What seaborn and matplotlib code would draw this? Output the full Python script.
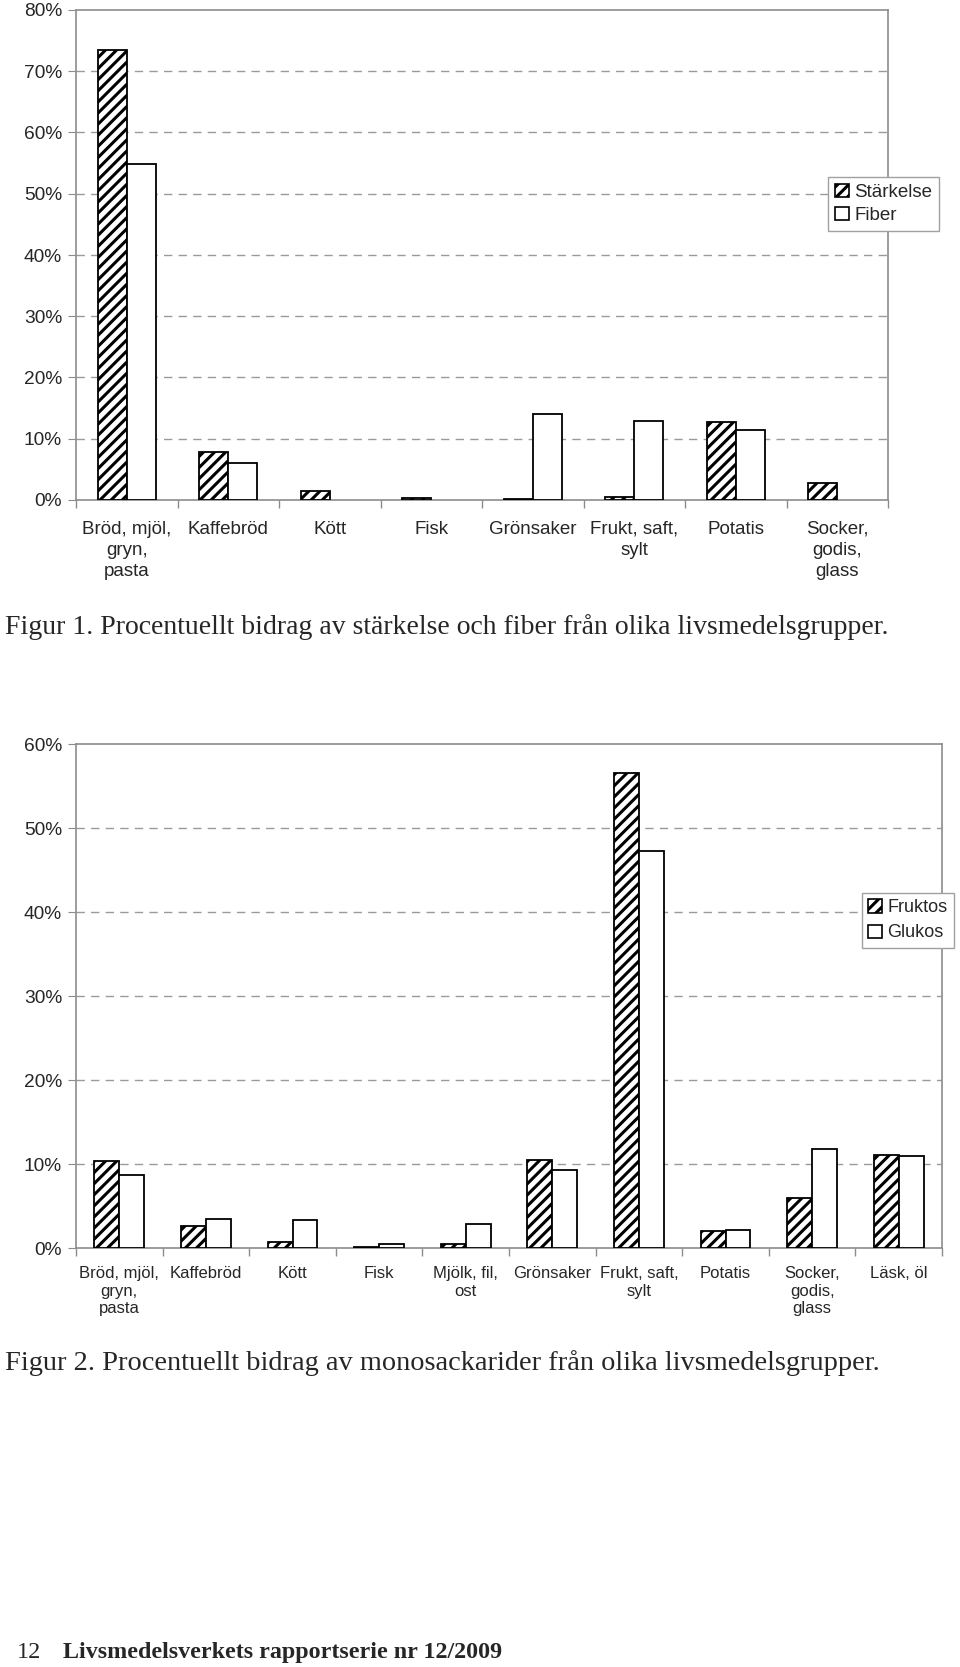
import numpy as np
import pandas as pd
import matplotlib
matplotlib.use("Agg")
import matplotlib.pyplot as plt
from matplotlib.patches import Patch
from matplotlib.ticker import PercentFormatter, FixedLocator
import seaborn as sns

# ---------------- data ----------------
cats1 = ["Bröd, mjöl,\ngryn,\npasta", "Kaffebröd", "Kött", "Fisk", "Grönsaker",
         "Frukt, saft,\nsylt", "Potatis", "Socker,\ngodis,\nglass"]
starch = [73.5, 7.8, 1.5, 0.3, 0.2, 0.5, 12.8, 2.7]
fiber = [54.9, 6.0, 0.0, 0.0, 14.1, 12.9, 11.5, 0.0]
series1 = ["Stärkelse", "Fiber"]

cats2 = ["Bröd, mjöl,\ngryn,\npasta", "Kaffebröd", "Kött", "Fisk", "Mjölk, fil,\nost",
         "Grönsaker", "Frukt, saft,\nsylt", "Potatis", "Socker,\ngodis,\nglass", "Läsk, öl"]
fruktos = [10.3, 2.65, 0.7, 0.1, 0.45, 10.5, 56.6, 2.0, 6.0, 11.1]
glukos = [8.7, 3.4, 3.3, 0.45, 2.9, 9.3, 47.3, 2.2, 11.8, 10.9]
series2 = ["Fruktos", "Glukos"]

caption1 = "Figur 1. Procentuellt bidrag av stärkelse och fiber från olika livsmedelsgrupper."
caption2 = "Figur 2. Procentuellt bidrag av monosackarider från olika livsmedelsgrupper."
footer_num = "12"
footer_txt = "Livsmedelsverkets rapportserie nr 12/2009"

# ---------------- style ----------------
sns.set_style("white")
plt.rcParams["font.family"] = ["Liberation Sans", "DejaVu Sans"]
plt.rcParams["hatch.linewidth"] = 2.2
plt.rcParams["hatch.color"] = "black"

W, H = 960, 1667
fig = plt.figure(figsize=(W / 100, H / 100), dpi=100)
fig.patch.set_facecolor("white")

GRID = "#9a9a9a"
SPINE = "#8c8c8c"


def make_df(cats, a, b, names):
    return pd.DataFrame({
        "cat": cats * 2,
        "val": list(a) + list(b),
        "series": [names[0]] * len(cats) + [names[1]] * len(cats),
    })


def draw(ax, cats, a, b, names, ymax, tick_fs, xlab_fs, pad, lsp):
    df = make_df(cats, a, b, names)
    sns.barplot(data=df, x="cat", y="val", hue="series", order=cats, hue_order=names,
                palette=["white", "white"], edgecolor="black", linewidth=1.3,
                width=0.575, gap=0, saturation=1, legend=False, ax=ax, zorder=3)
    for bar in ax.containers[0]:
        bar.set_hatch("///")
    for cont in ax.containers:
        for bar in cont:
            if bar.get_height() == 0:
                bar.set_visible(False)
    n = len(cats)
    ax.set_xlim(-0.5, n - 0.5)
    ax.set_ylim(0, ymax)
    ax.set_yticks(np.arange(0, ymax + 1, 10))
    ax.yaxis.set_major_formatter(PercentFormatter(decimals=0))
    ax.set_xlabel("")
    ax.set_ylabel("")
    for y in np.arange(10, ymax, 10):
        ax.axhline(y, color=GRID, lw=1.0, ls=(0, (6, 4.5)), zorder=1)
    for s in ax.spines.values():
        s.set_visible(True)
        s.set_color(SPINE)
        s.set_linewidth(1.2)
    ax.tick_params(axis="y", which="major", left=True, length=6, color=SPINE,
                   labelsize=tick_fs, pad=4)
    ax.tick_params(axis="x", which="major", length=0, labelsize=xlab_fs, pad=pad)
    ax.xaxis.set_minor_locator(FixedLocator(np.arange(-0.5, n, 1.0)))
    ax.tick_params(axis="x", which="minor", bottom=True, length=6, color=SPINE, width=1)
    for lab in ax.get_xticklabels():
        lab.set_linespacing(lsp)
        lab.set_ha("center")


# Chart 1
ax1 = fig.add_axes([76 / W, 1 - 500 / H, (888 - 76) / W, 490 / H])
draw(ax1, cats1, starch, fiber, series1, 80, 13.8, 13.5, 15, 1.33)

# Chart 2
ax2 = fig.add_axes([76 / W, 1 - 1248 / H, (942 - 76) / W, 504 / H])
draw(ax2, cats2, fruktos, glukos, series2, 60, 13.8, 12, 13, 1.22)

# legends
def legend(names, x, y, fs, lsp):
    handles = [Patch(facecolor="white", edgecolor="black", hatch="///", lw=1.2),
               Patch(facecolor="white", edgecolor="black", lw=1.2)]
    leg = fig.legend(handles, names, loc="upper left", bbox_to_anchor=(x / W, 1 - y / H),
                     bbox_transform=fig.transFigure, fontsize=fs, frameon=True,
                     fancybox=False, framealpha=1, edgecolor="#a0a0a0",
                     handlelength=0.75, handleheight=0.75, handletextpad=0.3,
                     labelspacing=lsp, borderpad=0.35, borderaxespad=0)
    leg.get_frame().set_linewidth(1.0)
    return leg

legend(series1, 828, 177, 13.5, 0.3)
legend(series2, 862, 893, 13, 0.45)

# captions
fig.text(5 / W, 1 - 627 / H, caption1, family="Liberation Serif", fontsize=20, va="center", ha="left")
fig.text(5 / W, 1 - 1363 / H, caption2, family="Liberation Serif", fontsize=20.4, va="center", ha="left")
fig.text(17 / W, 1 - 1652 / H, footer_num, family="Liberation Serif", fontsize=17.5, va="center", ha="left")
fig.text(63 / W, 1 - 1652 / H, footer_txt, family="Liberation Serif", fontsize=17.3,
         fontweight="bold", va="center", ha="left")

fig.savefig("out.png", dpi=100, facecolor="white")
